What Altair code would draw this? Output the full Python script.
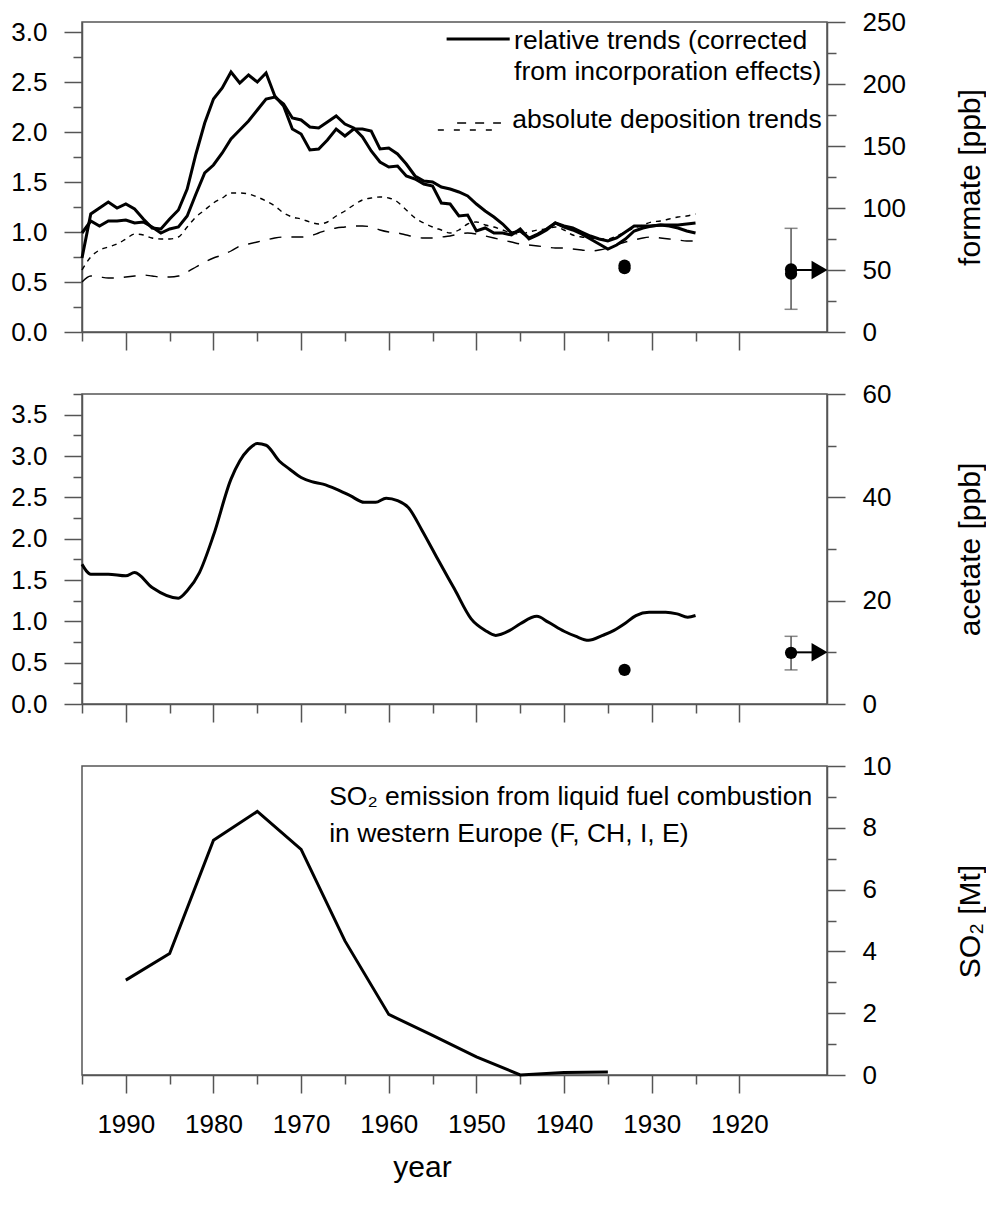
import altair as alt
import pandas as pd

FONT = "Liberation Sans"
GRAY = "#555555"

# ---------------- data ----------------
years_rel = list(range(1995, 1924, -1))
rel_a = [0.74, 1.18, 1.24, 1.30, 1.24, 1.28, 1.23, 1.13, 1.04, 1.03,
         1.13, 1.22, 1.43, 1.78, 2.09, 2.33, 2.44, 2.60, 2.49, 2.57,
         2.50, 2.59, 2.36, 2.26, 2.03, 1.98, 1.82, 1.83, 1.92, 2.03,
         1.96, 2.03, 2.03, 2.01, 1.83, 1.84, 1.78, 1.68, 1.56, 1.51,
         1.50, 1.45, 1.43, 1.40, 1.36, 1.28, 1.21, 1.15, 1.08, 0.99,
         1.01, 0.94, 0.98, 1.03, 1.09, 1.06, 1.04, 1.00, 0.96, 0.93,
         0.91, 0.94, 1.00, 1.06, 1.06, 1.06, 1.07, 1.06, 1.04, 1.01,
         0.99]
rel_b = [0.99, 1.11, 1.06, 1.11, 1.11, 1.12, 1.09, 1.10, 1.05, 0.99,
         1.03, 1.05, 1.16, 1.38, 1.59, 1.67, 1.79, 1.93, 2.02, 2.11,
         2.22, 2.33, 2.35, 2.28, 2.14, 2.12, 2.05, 2.04, 2.10, 2.16,
         2.08, 2.04, 1.95, 1.81, 1.70, 1.65, 1.66, 1.56, 1.53, 1.48,
         1.46, 1.29, 1.28, 1.16, 1.17, 1.01, 1.04, 0.99, 0.99, 0.97,
         1.03, 0.93, 0.97, 1.02, 1.09, 1.05, 1.02, 0.98, 0.93, 0.88,
         0.83, 0.87, 0.93, 1.01, 1.04, 1.06, 1.07, 1.07, 1.07, 1.08,
         1.09]
abs_short = [0.62, 0.75, 0.82, 0.85, 0.88, 0.93, 0.98, 0.97, 0.94, 0.93,
             0.93, 0.95, 1.05, 1.15, 1.22, 1.29, 1.34, 1.39, 1.39, 1.38,
             1.35, 1.31, 1.26, 1.19, 1.15, 1.13, 1.10, 1.08, 1.10, 1.16,
             1.21, 1.27, 1.32, 1.34, 1.35, 1.34, 1.30, 1.22, 1.14, 1.09,
             1.05, 1.02, 0.99, 1.02, 1.08, 1.10, 1.07, 1.05, 1.02, 0.99,
             0.98, 1.00, 1.02, 1.03, 1.05, 1.02, 0.97, 0.95, 0.94, 0.93,
             0.93, 0.96, 1.00, 1.04, 1.07, 1.10, 1.11, 1.13, 1.15, 1.16,
             1.18]
abs_long = [0.50, 0.56, 0.55, 0.54, 0.54, 0.55, 0.56, 0.57, 0.56, 0.55,
            0.55, 0.56, 0.60, 0.65, 0.70, 0.74, 0.77, 0.81, 0.86, 0.88,
            0.90, 0.92, 0.94, 0.95, 0.95, 0.95, 0.96, 0.99, 1.02, 1.04,
            1.05, 1.06, 1.06, 1.05, 1.02, 1.00, 0.99, 0.97, 0.95, 0.94,
            0.94, 0.95, 0.96, 0.98, 0.99, 0.98, 0.96, 0.94, 0.92, 0.90,
            0.88, 0.87, 0.86, 0.85, 0.84, 0.84, 0.83, 0.82, 0.81, 0.82,
            0.84, 0.87, 0.90, 0.92, 0.94, 0.95, 0.94, 0.93, 0.92, 0.91,
            0.91]

# formate measurements [ppb]
formate_dot_years = [1933.1, 1933.1, 1914.1, 1914.1]
formate_dot_ppb = [53.6, 51.5, 50.5, 47.0]
formate_err_year = [1914.1]
formate_err_low = [18.3]
formate_err_high = [83.6]
formate_arrow_ppb = [50]

# acetate
acetate_years = [1995, 1994, 1992, 1990, 1989, 1987, 1984, 1983, 1981.6, 1980,
                 1978, 1977, 1976, 1975, 1974, 1972.5, 1971.3, 1970, 1968.8, 1967.5,
                 1966, 1964.4, 1962.8, 1961.5, 1960.3, 1959, 1957.8, 1956.2, 1954.4, 1952.5,
                 1950.6, 1949, 1947.8, 1946.2, 1945, 1943.1, 1941.8, 1940, 1938.7, 1937.2,
                 1935.6, 1934.3, 1933.1, 1931.8, 1930.3, 1928.4, 1927.1, 1925.9, 1925]
acetate_vals = [1.69, 1.57, 1.57, 1.55, 1.59, 1.41, 1.28, 1.37, 1.59, 2.04,
                2.72, 2.94, 3.08, 3.15, 3.13, 2.94, 2.84, 2.74, 2.69, 2.66,
                2.60, 2.52, 2.44, 2.44, 2.49, 2.46, 2.38, 2.10, 1.75, 1.39,
                1.03, 0.89, 0.83, 0.89, 0.97, 1.06, 0.99, 0.88, 0.82, 0.77,
                0.83, 0.89, 0.97, 1.07, 1.11, 1.11, 1.09, 1.05, 1.07]
acetate_dot_years = [1933.1, 1914.1]
acetate_dot_ppb = [6.6, 9.9]
acetate_err_year = [1914.1]
acetate_err_low = [6.6]
acetate_err_high = [13.1]
acetate_arrow_ppb = [10]

# SO2 emission [Mt]
so2_years = [1990, 1985, 1980, 1975, 1970, 1965, 1960, 1955, 1950, 1945, 1940, 1935]
so2_vals = [3.07, 3.93, 7.6, 8.53, 7.3, 4.34, 1.96, 1.28, 0.59, 0.0, 0.08, 0.1]

# tick values
year_ticks = list(range(1995, 1919, -5))
formate_left_ticks = [i * 0.25 for i in range(0, 13)]
formate_right_ticks = list(range(0, 251, 25))
acetate_left_ticks = [i * 0.25 for i in range(0, 16)]
acetate_right_ticks = list(range(0, 61, 10))
so2_ticks = list(range(0, 11))

# annotation texts and their anchor positions (data coordinates)
legend_lines = ["relative trends (corrected", "from incorporation effects)", "absolute deposition trends"]
legend_text_year = [1945.7, 1945.7, 1945.9]
legend_text_val = [2.83, 2.52, 2.04]
so2_text = ["SO\u2082 emission from liquid fuel combustion", "in western Europe (F, CH, I, E)"]
so2_text_year = [1966.8, 1966.8]
so2_text_val = [8.75, 7.55]

# ---------------- helpers ----------------
PW, PH = 745, 310
x_scale = alt.Scale(domain=[1995, 1910], nice=False, zero=False)


def cond_size(test, major=18, minor=9):
    return {"condition": {"test": test, "value": major}, "value": minor}


YEAR_TEST = "datum.value % 10 === 0"
HALF_TEST = "abs(datum.value * 2 - round(datum.value * 2)) < 0.001"


def x_axis(labels):
    kw = dict(values=year_ticks, tickSize=cond_size(YEAR_TEST), format="d",
              labelFlush=False, labelOverlap=False, grid=False)
    if labels:
        kw.update(labelExpr=f"{YEAR_TEST} ? datum.label : ''", labelPadding=18,
                  title="year", titleX=340, titleY=92, titleBaseline="middle",
                  titleAlign="center", titleFontSize=30)
        return alt.Axis(**kw)
    kw.update(labels=False)
    return alt.Axis(**kw)


def left_axis(values):
    return alt.Axis(orient="left", values=values, tickSize=cond_size(HALF_TEST),
                    format=".1f", labelExpr=f"{HALF_TEST} ? datum.label : ''",
                    labelPadding=17, labelFlush=False, labelOverlap=False, grid=False)


def right_axis(values, test, title):
    return alt.Axis(orient="right", values=values, tickSize=cond_size(test), format="d",
                    labelExpr=f"{test} ? datum.label : ''", labelPadding=17,
                    labelFlush=False, labelOverlap=False, grid=False,
                    title=title, titleAngle=270, titleX=143, titleY=PH / 2,
                    titleAlign="center", titleBaseline="middle", titleFontSize=30)


# ---------------- panel 1: formate ----------------
X1 = alt.X("year:Q", scale=x_scale, axis=x_axis(False), title=None)
fl_scale = alt.Scale(domain=[0, 3.1], nice=False, zero=False)
fl_axis = left_axis(formate_left_ticks)


def YL1(field):
    return alt.Y(f"{field}:Q", scale=fl_scale, axis=fl_axis, title=None)


df_rel = pd.DataFrame({"year": years_rel, "a": rel_a, "b": rel_b, "s": abs_short, "l": abs_long})
base1 = alt.Chart(df_rel)
line_a = base1.mark_line(color="black", strokeWidth=3).encode(x=X1, y=YL1("a"))
line_b = base1.mark_line(color="black", strokeWidth=3).encode(x=X1, y=YL1("b"))
line_s = base1.mark_line(color="black", strokeWidth=1.4, strokeDash=[5, 5], interpolate="monotone").encode(x=X1, y=YL1("s"))
line_l = base1.mark_line(color="black", strokeWidth=1.4, strokeDash=[12, 10], interpolate="monotone").encode(x=X1, y=YL1("l"))

df_leg_text = pd.DataFrame({"year": legend_text_year, "v": legend_text_val, "t": legend_lines})
leg_text = alt.Chart(df_leg_text).mark_text(align="left", baseline="alphabetic", font=FONT,
                                             fontSize=26.5, color="black").encode(
    x=X1, y=YL1("v"), text="t:N")

df_leg_solid = pd.DataFrame({"year": [1953.4], "year2": [1946.2], "v": [2.93]})
leg_solid = alt.Chart(df_leg_solid).mark_rule(color="black", strokeWidth=3).encode(
    x=X1, x2="year2:Q", y=YL1("v"))
df_leg_long = pd.DataFrame({"year": [1952.2], "year2": [1947.2], "v": [2.09]})
leg_long = alt.Chart(df_leg_long).mark_rule(color="black", strokeWidth=1.4, strokeDash=[9, 9]).encode(
    x=X1, x2="year2:Q", y=YL1("v"))
df_leg_short = pd.DataFrame({"year": [1954.4], "year2": [1947.2], "v": [2.02]})
leg_short = alt.Chart(df_leg_short).mark_rule(color="black", strokeWidth=1.4, strokeDash=[6, 10]).encode(
    x=X1, x2="year2:Q", y=YL1("v"))

left1 = alt.layer(line_s, line_l, line_a, line_b, leg_solid, leg_long, leg_short, leg_text)

fr_scale = alt.Scale(domain=[0, 250], nice=False, zero=False)
fr_axis = right_axis(formate_right_ticks, "datum.value % 50 === 0", "formate [ppb]")


def YR1(field):
    return alt.Y(f"{field}:Q", scale=fr_scale, axis=fr_axis, title="formate [ppb]")


df_fdots = pd.DataFrame({"year": formate_dot_years, "p": formate_dot_ppb})
df_ferr = pd.DataFrame({"year": formate_err_year, "lo": formate_err_low, "hi": formate_err_high})
df_fcaps = pd.DataFrame({"year": formate_err_year * 2, "p": formate_err_low + formate_err_high})
df_farrow = pd.DataFrame({"year": formate_err_year, "year2": [1911.4], "p": formate_arrow_ppb, "tip": [1910.85]})

f_err = alt.Chart(df_ferr).mark_rule(color=GRAY, strokeWidth=1.5).encode(x=X1, y=YR1("lo"), y2="hi:Q")
f_caps = alt.Chart(df_fcaps).mark_tick(orient="horizontal", color=GRAY, size=13, thickness=1.5).encode(x=X1, y=YR1("p"))
f_arrow = alt.Chart(df_farrow).mark_rule(color="black", strokeWidth=2).encode(x=X1, x2="year2:Q", y=YR1("p"))
f_tri = alt.Chart(df_farrow).mark_point(shape="triangle-right", filled=True, color="black", size=340, opacity=1).encode(
    x=alt.X("tip:Q", scale=x_scale, axis=x_axis(False), title=None), y=YR1("p"))
f_dots = alt.Chart(df_fdots).mark_circle(color="black", size=150, opacity=1).encode(x=X1, y=YR1("p"))
right1 = alt.layer(f_err, f_caps, f_arrow, f_tri, f_dots)

panel1 = alt.layer(left1, right1).resolve_scale(y="independent").properties(width=PW, height=PH)

# ---------------- panel 2: acetate ----------------
al_scale = alt.Scale(domain=[0, 3.75], nice=False, zero=False)
al_axis = left_axis(acetate_left_ticks)
df_ac = pd.DataFrame({"year": acetate_years, "v": acetate_vals})
ac_line = alt.Chart(df_ac).mark_line(color="black", strokeWidth=3, interpolate="monotone").encode(
    x=X1, y=alt.Y("v:Q", scale=al_scale, axis=al_axis, title=None))

ar_scale = alt.Scale(domain=[0, 60], nice=False, zero=False)
ar_axis = right_axis(acetate_right_ticks, "datum.value % 20 === 0", "acetate [ppb]")


def YR2(field):
    return alt.Y(f"{field}:Q", scale=ar_scale, axis=ar_axis, title="acetate [ppb]")


df_adots = pd.DataFrame({"year": acetate_dot_years, "p": acetate_dot_ppb})
df_aerr = pd.DataFrame({"year": acetate_err_year, "lo": acetate_err_low, "hi": acetate_err_high})
df_acaps = pd.DataFrame({"year": acetate_err_year * 2, "p": acetate_err_low + acetate_err_high})
df_aarrow = pd.DataFrame({"year": acetate_err_year, "year2": [1911.4], "p": acetate_arrow_ppb, "tip": [1910.85]})

a_err = alt.Chart(df_aerr).mark_rule(color=GRAY, strokeWidth=1.5).encode(x=X1, y=YR2("lo"), y2="hi:Q")
a_caps = alt.Chart(df_acaps).mark_tick(orient="horizontal", color=GRAY, size=13, thickness=1.5).encode(x=X1, y=YR2("p"))
a_arrow = alt.Chart(df_aarrow).mark_rule(color="black", strokeWidth=2).encode(x=X1, x2="year2:Q", y=YR2("p"))
a_tri = alt.Chart(df_aarrow).mark_point(shape="triangle-right", filled=True, color="black", size=340, opacity=1).encode(
    x=alt.X("tip:Q", scale=x_scale, axis=x_axis(False), title=None), y=YR2("p"))
a_dots = alt.Chart(df_adots).mark_circle(color="black", size=150, opacity=1).encode(x=X1, y=YR2("p"))
right2 = alt.layer(a_err, a_caps, a_arrow, a_tri, a_dots)

panel2 = alt.layer(ac_line, right2).resolve_scale(y="independent").properties(width=PW, height=PH)

# ---------------- panel 3: SO2 ----------------
X3 = alt.X("year:Q", scale=x_scale, axis=x_axis(True), title="year")
s_scale = alt.Scale(domain=[0, 10], nice=False, zero=False)
s_axis = right_axis(so2_ticks, "datum.value % 2 === 0", "SO\u2082 [Mt]")


def YS(field):
    return alt.Y(f"{field}:Q", scale=s_scale, axis=s_axis, title="SO\u2082 [Mt]")


df_so2 = pd.DataFrame({"year": so2_years, "v": so2_vals})
so2_line = alt.Chart(df_so2).mark_line(color="black", strokeWidth=3).encode(x=X3, y=YS("v"))
df_so2_text = pd.DataFrame({"year": so2_text_year, "v": so2_text_val, "t": so2_text})
so2_label = alt.Chart(df_so2_text).mark_text(align="left", baseline="alphabetic", font=FONT,
                                              fontSize=26.5, color="black").encode(
    x=X3, y=YS("v"), text="t:N")
panel3 = alt.layer(so2_line, so2_label).properties(width=PW, height=PH - 1)

chart = alt.vconcat(panel1, panel2, panel3, spacing=62, bounds="flush").properties(
    padding={"left": 2, "top": 0, "right": 0, "bottom": 0}
).configure_view(
    stroke=GRAY, strokeWidth=1.5
).configure_axis(
    domainColor=GRAY, tickColor=GRAY, domainWidth=1.5, tickWidth=1.5,
    labelFont=FONT, labelFontSize=26, labelColor="black",
    titleFont=FONT, titleFontSize=30, titleFontWeight="normal", titleColor="black",
)

chart.save("out.html", embed_options={"renderer": "svg", "actions": False})
